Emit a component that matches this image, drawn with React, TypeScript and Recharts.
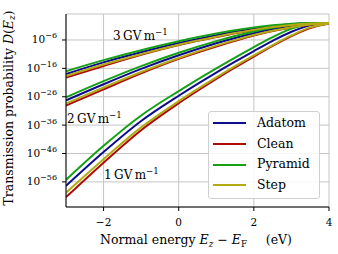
import React from 'react';
import { LineChart, Line, XAxis, YAxis, CartesianGrid } from 'recharts';

// normal energy E_z - E_F (eV)
const ENERGY = [-3, -2, -1, 0, 1, 1.5, 2, 2.5, 3, 3.5, 4];

// log10 D(E_z), one array per surface and field
const ADATOM_3 = [-18.0, -13.9, -10.35, -7.1, -4.3, -3.05, -2.0, -1.1, -0.45, -0.06, 0];
const CLEAN_3 = [-19.2, -15.15, -11.25, -7.8, -5.0, -3.66, -2.5, -1.5, -0.72, -0.2, 0];
const PYRAMID_3 = [-17.0, -13.1, -9.6, -6.45, -3.75, -2.6, -1.6, -0.8, -0.25, -0.03, 0];
const STEP_3 = [-18.7, -14.65, -11.0, -7.65, -4.9, -3.57, -2.44, -1.47, -0.71, -0.2, 0];

const ADATOM_2 = [-27.3, -21.6, -16.2, -11.4, -7.15, -5.3, -3.6, -2.15, -1.05, -0.3, 0];
const CLEAN_2 = [-29.1, -23.4, -17.75, -12.65, -8.3, -6.3, -4.44, -2.87, -1.6, -0.6, -0.1];
const PYRAMID_2 = [-26.2, -20.5, -15.2, -10.5, -6.4, -4.6, -3.0, -1.7, -0.65, -0.1, 0];
const STEP_2 = [-28.4, -22.75, -17.3, -12.35, -8.0, -6.05, -4.28, -2.74, -1.49, -0.54, -0.08];

const ADATOM_1 = [-57.4, -45.5, -34.55, -25.65, -17.5, -13.65, -9.9, -6.3, -3.1, -0.85, -0.08];
const CLEAN_1 = [-61.4, -49.25, -37.8, -28.3, -19.75, -15.7, -11.85, -8.1, -4.65, -1.8, -0.2];
const PYRAMID_1 = [-55.3, -43.3, -32.6, -24.0, -16.0, -12.2, -8.5, -5.0, -2.0, -0.35, 0];
const STEP_1 = [-59.8, -48.0, -36.8, -27.55, -19.2, -15.25, -11.45, -7.8, -4.4, -1.55, -0.15];

const X_TICKS = [-2, 0, 2, 4];
const Y_TICKS = [-56, -46, -36, -26, -16, -6];
const FIELDS = ['3', '2', '1'];

const SURFACES = [
    { name: 'Adatom', color: '#0c0c8c', values: [ADATOM_3, ADATOM_2, ADATOM_1] },
    { name: 'Clean', color: '#ad0a0a', values: [CLEAN_3, CLEAN_2, CLEAN_1] },
    { name: 'Pyramid', color: '#16a016', values: [PYRAMID_3, PYRAMID_2, PYRAMID_1] },
    { name: 'Step', color: '#b4aa14', values: [STEP_3, STEP_2, STEP_1] },
];

const FONT = '"DejaVu Serif", serif';

const chartData = ENERGY.map((e, i) => {
    const row: any = { e };
    SURFACES.forEach(s => {
        FIELDS.forEach((f, j) => {
            row[`${s.name}_${f}`] = s.values[j][i];
        });
    });
    return row;
});

const minus = (v: number) => (v < 0 ? `\u2212${Math.abs(v)}` : `${v}`);

const PowTick = (props: any) => {
    const { x, y, payload } = props;
    return (
        <text x={x} y={y + 3.5} textAnchor="end" fontSize={10.5} fill="#000" fontFamily={FONT}>
            10
            <tspan dy={-5} fontSize={8}>{minus(payload.value)}</tspan>
        </text>
    );
};

const FieldLabel = ({ left, top, f }: { left: number; top: number; f: string }) => (
    <div style={{ position: 'absolute', left, top, fontSize: 12, lineHeight: 1, whiteSpace: 'nowrap' }}>
        {f}{'\u2009'}GV{'\u2009'}m
        <span style={{ fontSize: '0.72em', verticalAlign: '0.55em' }}>{'\u2212'}1</span>
    </div>
);

export default function App() {
    return (
        <div style={{ position: 'absolute', left: 0, top: 0, width: 338, height: 254, background: '#fff', fontFamily: FONT, color: '#000' }}>
            <LineChart width={338} height={254} data={chartData} margin={{ top: 14, right: 9, bottom: 0, left: 0 }}>
                <CartesianGrid stroke="#c4c4c4" strokeWidth={1} />
                <XAxis
                    dataKey="e"
                    type="number"
                    domain={[-3, 4]}
                    ticks={X_TICKS}
                    tickFormatter={minus}
                    height={47}
                    tickSize={4}
                    tickMargin={8}
                    stroke="#000"
                    tick={{ fontSize: 10.5, fill: '#000', fontFamily: FONT }}
                    allowDataOverflow
                />
                <XAxis xAxisId="top" orientation="top" type="number" domain={[-3, 4]} height={0} tick={false} tickLine={false} stroke="#000" />
                <YAxis
                    type="number"
                    domain={[-64.85, 3.15]}
                    ticks={Y_TICKS}
                    width={66}
                    tickSize={4}
                    tickMargin={5}
                    stroke="#000"
                    tick={<PowTick />}
                    allowDataOverflow
                />
                <YAxis yAxisId="right" orientation="right" type="number" domain={[-64.85, 3.15]} width={0} tick={false} tickLine={false} stroke="#000" />
                {SURFACES.map(s =>
                    FIELDS.map(f => (
                        <Line
                            key={`${s.name}_${f}`}
                            dataKey={`${s.name}_${f}`}
                            type="monotone"
                            stroke={s.color}
                            strokeWidth={2}
                            dot={false}
                            isAnimationActive={false}
                        />
                    ))
                )}
            </LineChart>

            <FieldLabel left={113} top={28} f="3" />
            <FieldLabel left={67} top={111} f="2" />
            <FieldLabel left={104} top={167} f="1" />

            {/* legend */}
            <div
                style={{
                    position: 'absolute', left: 208, top: 111, width: 112, height: 88, boxSizing: 'border-box',
                    border: '1px solid #cfcfcf', borderRadius: 3, background: 'rgba(255,255,255,0.85)',
                }}
            >
                {SURFACES.map((s, i) => (
                    <div key={s.name} style={{ position: 'absolute', left: 4, top: 3 + i * 20.8, height: 16, display: 'flex', alignItems: 'center' }}>
                        <div style={{ width: 33, height: 2, background: s.color }} />
                        <span style={{ marginLeft: 11, fontSize: 12.5, lineHeight: 1 }}>{s.name}</span>
                    </div>
                ))}
            </div>

            {/* axis labels */}
            <div style={{ position: 'absolute', left: 196, top: 234, transform: 'translateX(-50%)', fontSize: 12.5, lineHeight: 1, whiteSpace: 'nowrap' }}>
                Normal energy <i>E</i><span style={{ fontSize: '0.7em', verticalAlign: '-0.3em' }}><i>z</i></span> {'\u2212'} <i>E</i>
                <span style={{ fontSize: '0.7em', verticalAlign: '-0.3em' }}>F</span>{'\u2003\u2002'}(eV)
            </div>
            <div
                style={{
                    position: 'absolute', left: 10, top: 108, transform: 'translate(-50%, -50%) rotate(-90deg)',
                    fontSize: 12.5, lineHeight: 1, whiteSpace: 'nowrap',
                }}
            >
                Transmission probability <i>D</i>(<i>E</i><span style={{ fontSize: '0.7em', verticalAlign: '-0.3em' }}><i>z</i></span>)
            </div>
        </div>
    );
}
